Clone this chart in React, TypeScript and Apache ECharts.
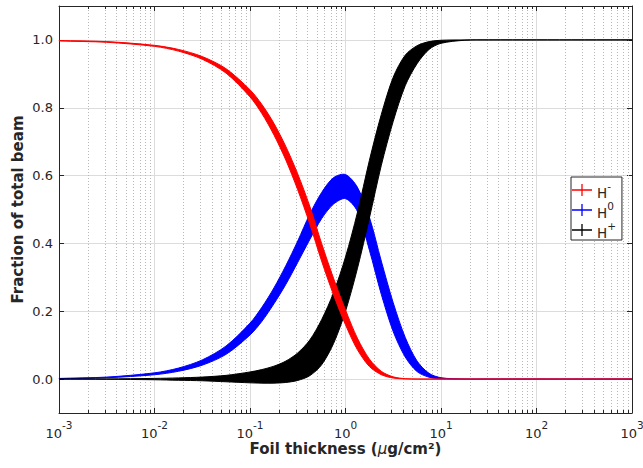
import React, { useEffect, useRef } from "react";
import * as echarts from "echarts";

// Foil thickness sample points (µg/cm²)
const thickness = [
  0.001, 0.00316, 0.01, 0.0178, 0.0316, 0.0562, 0.1, 0.133, 0.178, 0.237, 0.316,
  0.422, 0.562, 0.75, 1, 1.33, 1.78, 2.37, 3.16, 4.22, 5.62, 7.5, 10, 17.8, 31.6, 100, 1000,
];

// H- fraction band (upper / lower)
const hMinusHi = [
  0.998, 0.995, 0.984, 0.972, 0.951, 0.915, 0.853, 0.81, 0.754, 0.686, 0.605,
  0.51, 0.4, 0.297, 0.204, 0.121, 0.059, 0.023, 0.0066, 0.0012, 0.0001, 0, 0, 0, 0, 0, 0,
];
const hMinusLo = [
  0.997, 0.993, 0.981, 0.967, 0.943, 0.902, 0.832, 0.783, 0.72, 0.646, 0.558,
  0.458, 0.348, 0.248, 0.16, 0.087, 0.037, 0.013, 0.003, 0.0005, 0, 0, 0, 0, 0, 0, 0,
];

// H0 fraction band
const hZeroHi = [
  0.0019, 0.0059, 0.0184, 0.0324, 0.0565, 0.0977, 0.165, 0.2115, 0.2687, 0.3342, 0.407,
  0.486, 0.55, 0.594, 0.603, 0.566, 0.477, 0.348, 0.225, 0.123, 0.053, 0.017, 0.004, 0, 0, 0, 0,
];
const hZeroLo = [
  0.0011, 0.0039, 0.0128, 0.023, 0.041, 0.073, 0.13, 0.17, 0.222, 0.279, 0.344,
  0.411, 0.473, 0.516, 0.532, 0.495, 0.38, 0.25, 0.14, 0.065, 0.022, 0.0055, 0.001, 0, 0, 0, 0,
];

// H+ fraction band
const hPlusHi = [
  0, 0.0005, 0.002, 0.0035, 0.006, 0.011, 0.021, 0.028, 0.038, 0.053, 0.077,
  0.115, 0.175, 0.255, 0.36, 0.49, 0.645, 0.78, 0.89, 0.955, 0.983, 0.995, 0.999, 1.0, 1.0, 1.0, 1.0,
];
const hPlusLo = [
  0, -0.0005, -0.002, -0.0035, -0.005, -0.008, -0.011, -0.012, -0.012, -0.01, -0.004,
  0.01, 0.042, 0.105, 0.2, 0.325, 0.475, 0.63, 0.76, 0.865, 0.93, 0.972, 0.99, 0.999, 1.0, 1.0, 1.0,
];

const seriesNames = ["H⁻", "H⁰", "H⁺"];
const seriesSup = ["-", "0", "+"];
const seriesColors = ["#ff0000", "#0000ff", "#000000"];

// Minor (log) grid positions
const decadeStarts = [0.001, 0.01, 0.1, 1, 10, 100];
const minorMultipliers = [2, 3, 4, 5, 6, 7, 8, 9];

const X_MIN = 0.001;
const X_MAX = 1000;
const Y_MIN = -0.1;
const Y_MAX = 1.1;

const FONT = "DejaVu Sans";
const AXIS_COLOR = "#262626";

const plusIcon = "path://M0,5.35H20V6.65H0Z M9.35,0H10.65V12H9.35Z";

function bandSeries(name: string, color: string, lo: number[], hi: number[]) {
  return {
    type: "custom",
    name,
    xAxisIndex: 0,
    yAxisIndex: 0,
    z: 3,
    silent: true,
    itemStyle: { color },
    encode: { x: 0, y: [1, 2] },
    data: thickness.map((x, i) => [x, lo[i], hi[i]]),
    renderItem: (params: any, api: any) => {
      if (params.dataIndex !== 0) return null;
      const pts: number[][] = [];
      for (let i = 0; i < thickness.length; i++) pts.push(api.coord([thickness[i], hi[i]]));
      for (let i = thickness.length - 1; i >= 0; i--) pts.push(api.coord([thickness[i], lo[i]]));
      return {
        type: "polygon",
        shape: { points: pts, smooth: 0.3 },
        style: { fill: color, stroke: color, lineWidth: 1 },
      };
    },
  };
}

export default function App() {
  const ref = useRef<HTMLDivElement>(null);

  useEffect(() => {
    if (!ref.current) return;
    const chart = echarts.init(ref.current, undefined, { renderer: "svg" });

    const minorValues: number[] = [];
    decadeStarts.forEach((d) => minorMultipliers.forEach((m) => minorValues.push(d * m)));

    const minorGrid = {
      type: "custom",
      name: "minorGrid",
      xAxisIndex: 0,
      yAxisIndex: 0,
      z: 1,
      silent: true,
      encode: { x: 0, y: 1 },
      data: minorValues.map((v) => [v, 0]),
      renderItem: (params: any, api: any) => {
        const x = api.value(0);
        const pb = api.coord([x, Y_MIN]);
        const pt = api.coord([x, Y_MAX]);
        const px = Math.round(pb[0]) + 0.5;
        return {
          type: "group",
          children: [
            {
              type: "line",
              shape: { x1: px, y1: pb[1], x2: px, y2: pt[1] },
              style: { stroke: "#b8b8b8", lineWidth: 1, lineDash: [1, 2] },
            },
            {
              type: "line",
              shape: { x1: px, y1: pb[1], x2: px, y2: pb[1] - 3 },
              style: { stroke: AXIS_COLOR, lineWidth: 1 },
            },
            {
              type: "line",
              shape: { x1: px, y1: pt[1], x2: px, y2: pt[1] + 3 },
              style: { stroke: AXIS_COLOR, lineWidth: 1 },
            },
          ],
        };
      },
    };

    const option: any = {
      animation: false,
      backgroundColor: "#ffffff",
      textStyle: { fontFamily: FONT },
      grid: { left: 59, right: 11, top: 6, bottom: 55, containLabel: false, outerBoundsMode: "none" },
      legend: {
        show: true,
        orient: "vertical",
        left: 571,
        top: 177,
        selectedMode: false,
        backgroundColor: "#ffffff",
        borderColor: AXIS_COLOR,
        borderWidth: 1,
        borderRadius: 0,
        padding: [3, 6, 0, 1],
        itemWidth: 20,
        itemHeight: 12,
        itemGap: 0,
        itemTextGap: 3,
        data: seriesNames.map((n) => ({ name: n, icon: plusIcon })),
        formatter: (name: string) => `{h|H}{s|${seriesSup[seriesNames.indexOf(name)]}}`,
        textStyle: {
          fontFamily: FONT,
          color: AXIS_COLOR,
          rich: {
            h: { fontFamily: FONT, fontSize: 13.5, lineHeight: 20, verticalAlign: "bottom", color: AXIS_COLOR },
            s: { fontFamily: FONT, fontSize: 10.5, lineHeight: 6, verticalAlign: "top", color: AXIS_COLOR },
          },
        },
      },
      xAxis: [
        {
          type: "log",
          logBase: 10,
          min: X_MIN,
          max: X_MAX,
          position: "bottom",
          name: "{t|Foil thickness (}{m|μ}{t|g/cm²)}",
          nameLocation: "middle",
          nameGap: 27,
          nameMoveOverlap: false,
          nameTextStyle: {
            rich: {
              t: { fontFamily: FONT, fontSize: 15, fontWeight: "bold", lineHeight: 18, color: AXIS_COLOR },
              m: { fontFamily: FONT, fontSize: 15, fontStyle: "italic", lineHeight: 18, color: AXIS_COLOR },
            },
          },
          axisLine: { show: true, onZero: false, lineStyle: { color: AXIS_COLOR, width: 1 } },
          axisTick: { show: true, inside: true, length: 5, lineStyle: { color: AXIS_COLOR } },
          axisLabel: {
            margin: 6,
            showMinLabel: true,
            showMaxLabel: true,
            formatter: (v: number) => `{b|10}{s|${Math.round(Math.log10(v))}}`,
            rich: {
              b: { fontFamily: FONT, fontSize: 13, lineHeight: 21, verticalAlign: "bottom", color: AXIS_COLOR },
              s: { fontFamily: FONT, fontSize: 10.5, lineHeight: 10, verticalAlign: "top", color: AXIS_COLOR },
            },
          },
          splitLine: { show: true, lineStyle: { color: "#dcdcdc", width: 1, type: "solid" } },
        },
        {
          type: "log",
          logBase: 10,
          min: X_MIN,
          max: X_MAX,
          position: "top",
          axisLine: { show: true, onZero: false, lineStyle: { color: AXIS_COLOR, width: 1 } },
          axisTick: { show: true, inside: true, length: 5, lineStyle: { color: AXIS_COLOR } },
          axisLabel: { show: false },
          splitLine: { show: false },
        },
      ],
      yAxis: [
        {
          type: "value",
          min: Y_MIN,
          max: Y_MAX,
          splitNumber: 6,
          position: "left",
          name: "Fraction of total beam",
          nameLocation: "middle",
          nameGap: 32,
          nameMoveOverlap: false,
          nameTextStyle: { fontFamily: FONT, fontSize: 15, fontWeight: "bold", color: AXIS_COLOR, lineHeight: 18 },
          axisLine: { show: true, onZero: false, lineStyle: { color: AXIS_COLOR, width: 1 } },
          axisTick: { show: true, inside: true, length: 5, lineStyle: { color: AXIS_COLOR } },
          axisLabel: {
            margin: 6,
            showMinLabel: false,
            showMaxLabel: false,
            fontFamily: FONT,
            fontSize: 13,
            color: AXIS_COLOR,
            formatter: (v: number) => v.toFixed(1),
          },
          splitLine: { show: true, lineStyle: { color: "#dcdcdc", width: 1 } },
        },
        {
          type: "value",
          min: Y_MIN,
          max: Y_MAX,
          splitNumber: 6,
          position: "right",
          axisLine: { show: true, onZero: false, lineStyle: { color: AXIS_COLOR, width: 1 } },
          axisTick: { show: true, inside: true, length: 5, lineStyle: { color: AXIS_COLOR } },
          axisLabel: { show: false },
          splitLine: { show: false },
        },
      ],
      series: [
        minorGrid,
        bandSeries(seriesNames[1], seriesColors[1], hZeroLo, hZeroHi),
        bandSeries(seriesNames[2], seriesColors[2], hPlusLo, hPlusHi),
        bandSeries(seriesNames[0], seriesColors[0], hMinusLo, hMinusHi),
      ],
    };

    chart.setOption(option);
    return () => chart.dispose();
  }, []);

  return <div ref={ref} style={{ width: 643, height: 468, position: "absolute", left: 0, top: 0 }} />;
}
